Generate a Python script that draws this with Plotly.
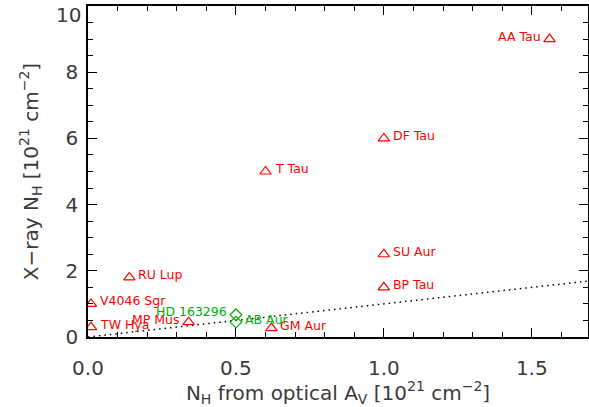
import plotly.graph_objects as go

# Data
red_names = ["AA Tau", "DF Tau", "T Tau", "SU Aur", "BP Tau", "RU Lup",
             "V4046 Sgr", "TW Hya", "MP Mus", "GM Aur"]
red_x = [1.56, 1.00, 0.60, 1.00, 1.00, 0.14, 0.01, 0.01, 0.34, 0.62]
red_y = [9.0, 6.0, 5.0, 2.5, 1.5, 1.8, 1.0, 0.3, 0.45, 0.27]
red_side = ["left", "right", "right", "right", "right", "right",
            "right", "right", "left", "right"]

green_names = ["HD 163296", "AB Aur"]
green_x = [0.50, 0.50]
green_y = [0.67, 0.45]
green_side = ["left", "right"]

line_x = [0.0, 1.7]
line_y = [0.0, 1.7]

x_ticks = [0.0, 0.5, 1.0, 1.5]
y_ticks = [0, 2, 4, 6, 8, 10]

RED = "#ff0000"
GREEN = "#00b000"
FONT = "DejaVu Sans"
AXC = "#3a3a3a"

fig = go.Figure()
fig.add_trace(go.Scatter(x=line_x, y=line_y, mode="lines",
                         line=dict(color="black", width=1.5, dash="1.5px,4px"),
                         showlegend=False, hoverinfo="skip"))
fig.add_trace(go.Scatter(x=red_x, y=red_y, mode="markers",
                         marker=dict(symbol="triangle-up-open", size=10,
                                     color=RED, line=dict(width=1.2, color=RED)),
                         showlegend=False))
fig.add_trace(go.Scatter(x=green_x, y=green_y, mode="markers",
                         marker=dict(symbol="diamond-open", size=9,
                                     color=GREEN, line=dict(width=1.2, color=GREEN)),
                         showlegend=False))

annotations = []
for names, xs, ys, sides, col in [(red_names, red_x, red_y, red_side, RED),
                                  (green_names, green_x, green_y, green_side, GREEN)]:
    for n, x, y, s in zip(names, xs, ys, sides):
        annotations.append(dict(
            x=x, y=y, text=n, showarrow=False,
            xanchor="left" if s == "right" else "right",
            xshift=7 if s == "right" else -7, yshift=3,
            font=dict(family=FONT, size=12.5, color=col)))

# top y tick label is drawn just inside the figure (as in the original)
y_top = y_ticks[-1]
annotations.append(dict(x=0, xref="paper", y=y_top, yref="y", text=str(y_top),
                        showarrow=False, xanchor="right", xshift=-5, yshift=-9,
                        font=dict(family=FONT, size=20, color=AXC)))

axis_common = dict(
    showgrid=False, zeroline=False, showline=True, linecolor="black",
    linewidth=1.5, mirror="allticks", ticks="inside", ticklen=9,
    tickwidth=1, tickcolor="black", automargin=False,
    tickfont=dict(family=FONT, size=20, color=AXC),
)

fig.update_layout(
    width=589, height=407,
    margin=dict(l=88, r=1, t=6, b=70),
    paper_bgcolor="white", plot_bgcolor="white",
    annotations=annotations,
    xaxis=dict(range=[0, 1.69], tickmode="array", tickvals=x_ticks,
               ticktext=[f"{v:.1f}" for v in x_ticks], ticklabelstandoff=12,
               minor=dict(dtick=0.1, ticklen=5, ticks="inside", tickcolor="black"),
               title=dict(text="N<sub>H</sub> from optical A<sub>V</sub> [10<sup>21</sup> cm<sup>\u22122</sup>]",
                          font=dict(family=FONT, size=20, color=AXC), standoff=4),
               **axis_common),
    yaxis=dict(range=[0, 10], tickmode="array", tickvals=y_ticks,
               ticktext=[str(v) if v != y_top else "" for v in y_ticks],
               ticklabelstandoff=4,
               minor=dict(dtick=0.5, ticklen=5, ticks="inside", tickcolor="black"),
               title=dict(text="X\u2212ray N<sub>H</sub> [10<sup>21</sup> cm<sup>\u22122</sup>]",
                          font=dict(family=FONT, size=20, color=AXC), standoff=22),
               **axis_common),
)

fig.write_html("out.html")
